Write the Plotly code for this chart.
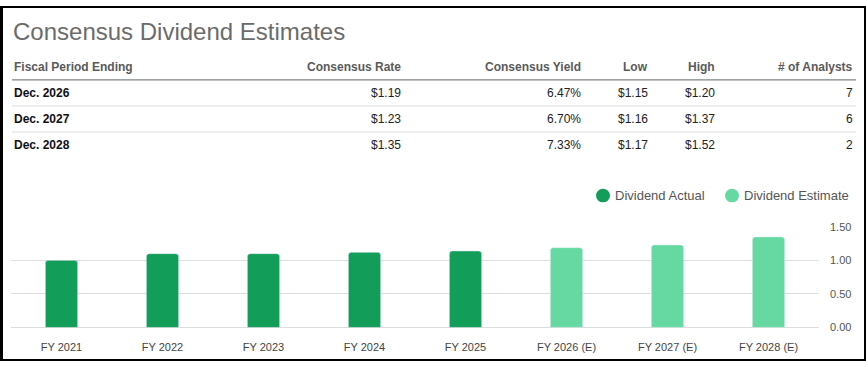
import plotly.graph_objects as go

# ---- data ----
years_actual = ["FY 2021", "FY 2022", "FY 2023", "FY 2024", "FY 2025"]
div_actual = [1.00, 1.10, 1.10, 1.12, 1.14]
years_est = ["FY 2026 (E)", "FY 2027 (E)", "FY 2028 (E)"]
div_est = [1.19, 1.23, 1.35]

table_headers = ["Fiscal Period Ending", "Consensus Rate", "Consensus Yield", "Low", "High", "# of Analysts"]
periods = ["Dec. 2026", "Dec. 2027", "Dec. 2028"]
cons_rate = ["$1.19", "$1.23", "$1.35"]
cons_yield = ["6.47%", "6.70%", "7.33%"]
low = ["$1.15", "$1.16", "$1.17"]
high = ["$1.20", "$1.37", "$1.52"]
analysts = ["7", "6", "2"]
y_ticks = [0, 0.5, 1.0, 1.5]

W, H = 866, 367
FONT = "Liberation Sans, Arial, sans-serif"
C_ACT = "#129d59"
C_EST = "#66d9a3"

def px(x):
    return x / W

def py(y):
    return 1 - y / H

fig = go.Figure()
fig.add_trace(go.Bar(x=years_actual, y=div_actual, marker_color=C_ACT, name="Dividend Actual",
                     width=0.32, showlegend=False, hoverinfo="x+y"))
fig.add_trace(go.Bar(x=years_est, y=div_est, marker_color=C_EST, name="Dividend Estimate",
                     width=0.32, showlegend=False, hoverinfo="x+y"))

annotations = []
shapes = []

# title
annotations.append(dict(x=px(11), y=py(26), xref="paper", yref="paper", xanchor="left", yanchor="middle",
                        text="Consensus Dividend Estimates", showarrow=False,
                        font=dict(family=FONT, size=24, color="#6b6b6b")))

# table columns (right edges / left edge)
col_x = [12, 403, 583, 650, 717, 855]
col_anchor = ["left", "right", "right", "right", "right", "right"]
header_y = 63
row_ys = [90, 117, 144]

for i, h in enumerate(table_headers):
    annotations.append(dict(x=px(col_x[i]), y=py(header_y), xref="paper", yref="paper",
                            xanchor=col_anchor[i], yanchor="middle", text="<b>%s</b>" % h, showarrow=False,
                            font=dict(family=FONT, size=12, color="#5a5a5a")))

columns = [periods, cons_rate, cons_yield, low, high, analysts]
for r, yv in enumerate(row_ys):
    for c, col in enumerate(columns):
        txt = col[r]
        if c == 0:
            txt = "<b>%s</b>" % txt
        annotations.append(dict(x=px(col_x[c]), y=py(yv), xref="paper", yref="paper",
                                xanchor=col_anchor[c], yanchor="middle", text=txt, showarrow=False,
                                font=dict(family=FONT, size=12, color="#111111" if c == 0 else "#222222")))

# table lines
shapes.append(dict(type="line", xref="paper", yref="paper", x0=px(12), x1=px(856), y0=py(76.3), y1=py(76.3),
                   line=dict(color="#7d8585", width=1.3)))
for yl in [103.3, 130.3]:
    shapes.append(dict(type="line", xref="paper", yref="paper", x0=px(12), x1=px(856), y0=py(yl), y1=py(yl),
                       line=dict(color="#dddddd", width=1)))

# legend (manual, circle markers)
leg = [("Dividend Actual", C_ACT, 603), ("Dividend Estimate", C_EST, 732)]
for name, col, cx in leg:
    shapes.append(dict(type="circle", xref="paper", yref="paper", x0=px(cx - 7), x1=px(cx + 7),
                       y0=py(196 + 7), y1=py(196 - 7), fillcolor=col, line=dict(width=0)))
    annotations.append(dict(x=px(cx + 10), y=py(196), xref="paper", yref="paper", xanchor="left", yanchor="middle",
                            text=name, showarrow=False, font=dict(family=FONT, size=13, color="#555555")))

# outer black frame
frame = [(0, 0, 3, H), (0, 0, W, 2), (W - 2, 0, W, H), (0, H - 2, W, H)]
for x0, y0, x1, y1 in frame:
    shapes.append(dict(type="rect", xref="paper", yref="paper", x0=px(x0), x1=px(x1), y0=py(y1), y1=py(y0),
                       fillcolor="black", line=dict(width=0), layer="above"))

fig.update_layout(
    width=W, height=H,
    margin=dict(l=0, r=0, t=0, b=0),
    paper_bgcolor="white", plot_bgcolor="white",
    barmode="overlay", barcornerradius=3,
    showlegend=False,
    font=dict(family=FONT, color="#555555"),
    xaxis=dict(domain=[px(11), px(819)], categoryorder="array", categoryarray=years_actual + years_est,
               showgrid=False, showline=False, ticks="", tickfont=dict(size=11, color="#444444"),
               ticklabelstandoff=12, fixedrange=True),
    yaxis=dict(domain=[py(332.3), py(228.3)], range=[0, 1.5], side="right", tickvals=y_ticks,
               tickformat=".2f", showgrid=True, gridcolor="#dddddd", gridwidth=1,
               zeroline=True, zerolinecolor="#dddddd", zerolinewidth=1,
               tickfont=dict(size=11, color="#555555"), ticklabelstandoff=10, fixedrange=True),
    annotations=annotations,
    shapes=shapes,
)

fig.write_html("out.html", config={"displayModeBar": False},
               post_script="document.body.style.margin='0';document.body.style.overflow='hidden';")
